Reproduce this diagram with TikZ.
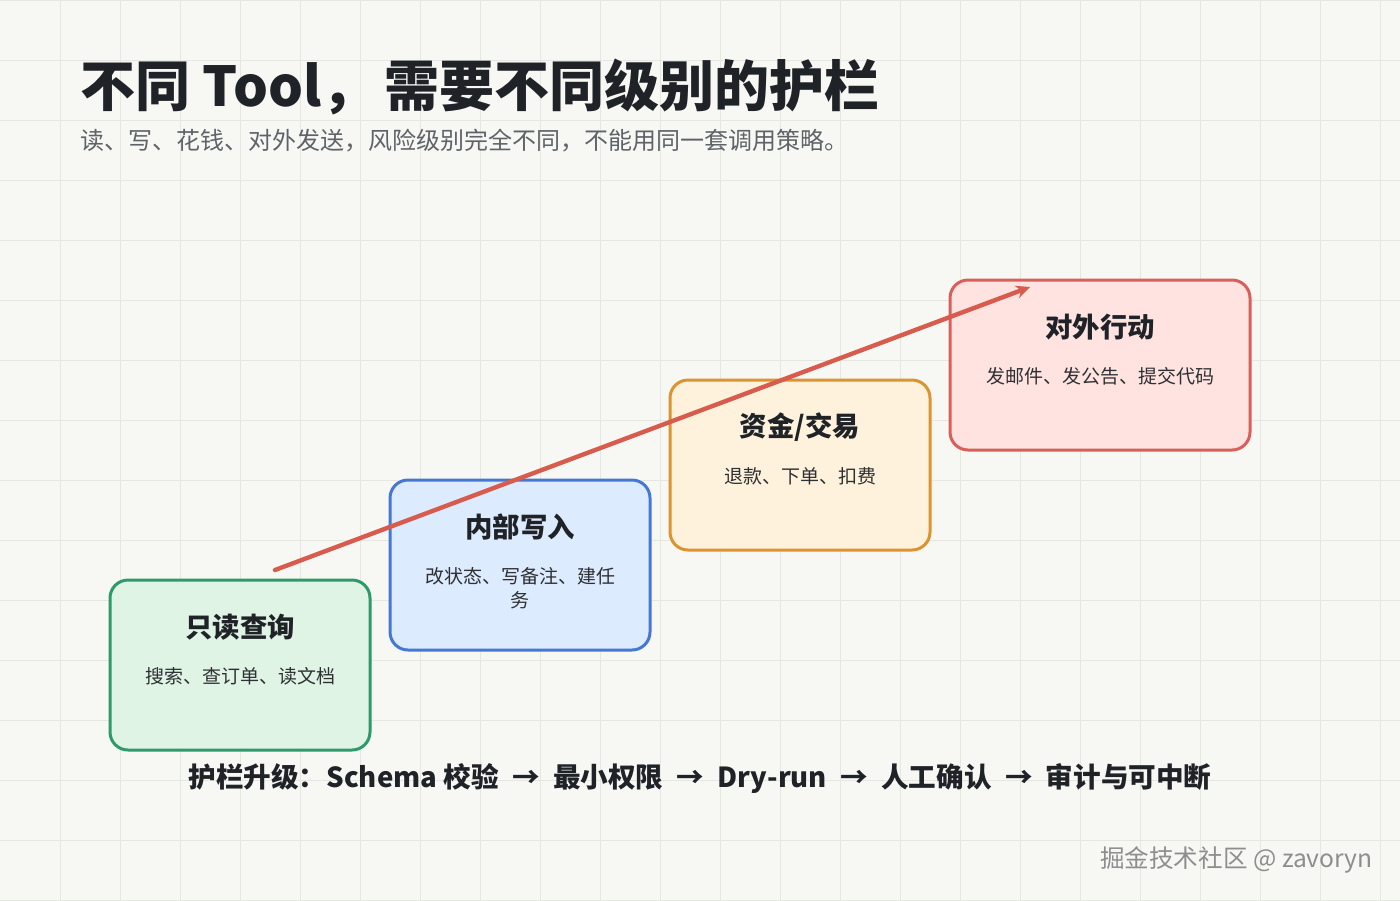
\documentclass[tikz,border=0pt]{standalone}
\usepackage{fontspec}
\setmainfont{Noto Sans CJK SC}
\usetikzlibrary{arrows.meta,positioning}
\definecolor{cbg}{HTML}{F7F8F4}
\definecolor{cgrid}{HTML}{E5E8E1}
\definecolor{cdark}{HTML}{1F2328}
\definecolor{ctext}{HTML}{2E3033}
\definecolor{cgray}{HTML}{5F6368}
\definecolor{cmark}{HTML}{8E8E8E}
\definecolor{cgreen}{HTML}{2E9A6A}
\definecolor{cgreenfill}{HTML}{E0F4E6}
\definecolor{cblue}{HTML}{4677D2}
\definecolor{cbluefill}{HTML}{DDEBFF}
\definecolor{corange}{HTML}{DC9331}
\definecolor{corangefill}{HTML}{FEF2DD}
\definecolor{cred}{HTML}{D9605A}
\definecolor{credfill}{HTML}{FEE3E0}
\definecolor{carrow}{HTML}{D75C4E}
\newcommand{\stepto}{\hspace{3.5pt}→\hspace{3.5pt}}

\begin{document}
\begin{tikzpicture}[x=0.5pt,y=-0.5pt,
  card/.style={draw, rounded corners=9pt, line width=1.5pt, minimum width=130pt, minimum height=85pt, inner sep=0},
  ctitle/.style={font=\fontsize{13.7}{16}\selectfont\bfseries, text=cdark, inner sep=0},
  cdesc/.style={font=\fontsize{9.5}{12}\selectfont, text=ctext, align=center, inner sep=0},
  arr/.style={-{Stealth[length=7pt,width=6.5pt]}, line width=2.2pt, draw=carrow, line cap=round}]

\useasboundingbox (0,0) rectangle (1400,900);
\fill[cbg] (0,0) rectangle (1400,900);
\foreach \gx in {60,120,...,1380} \draw[cgrid, line width=0.5pt] (\gx,0) -- (\gx,900);
\foreach \gy in {0,60,...,900} \draw[cgrid, line width=0.5pt] (0,\gy) -- (1400,\gy);

\node[anchor=base west, font=\fontsize{27.5}{32}\selectfont\bfseries, text=cdark, inner sep=0] (title) at (80,106) {不同 Tool，\hspace{4pt}需要不同级别的护栏};
\node[anchor=base west, font=\fontsize{12}{14}\selectfont, text=cgray, inner sep=0] (subtitle) at (80,149) {读、写、花钱、对外发送，风险级别完全不同，不能用同一套调用策略。};

\node[card, fill=cgreenfill, draw=cgreen] (read) at (240,665) {};
\node[card, fill=cbluefill, draw=cblue] (write) at (520,565) {};
\node[card, fill=corangefill, draw=corange] (money) at (800,465) {};
\node[card, fill=credfill, draw=cred, minimum width=150pt] (extern) at (1100,365) {};

\node[ctitle] (readt) at (240,627) {只读查询};
\node[cdesc] (readd) at (240,676) {搜索、查订单、读文档};
\node[ctitle] (writet) at (520,527) {内部写入};
\node[cdesc] (writed) at (520,588) {改状态、写备注、建任\\务};
\node[ctitle] (moneyt) at (800,427) {资金/交易};
\node[cdesc] (moneyd) at (800,476) {退款、下单、扣费};
\node[ctitle] (externt) at (1100,327) {对外行动};
\node[cdesc] (externd) at (1100,376) {发邮件、发公告、提交代码};

\coordinate (rise0) at (275,570);
\coordinate (rise1) at (1030,287);
\draw[arr] (rise0) -- (rise1);

\node[font=\fontsize{13.8}{16}\selectfont\bfseries, text=cdark, inner sep=0] (ladder) at (700,778) {护栏升级：Schema 校验 \stepto{} 最小权限 \stepto{} Dry-run \stepto{} 人工确认 \stepto{} 审计与可中断};
\node[anchor=east, font=\fontsize{12.3}{14}\selectfont, text=cmark, inner sep=0] (mark) at (1373,860) {掘金技术社区 @ zavoryn};
\end{tikzpicture}
\end{document}
